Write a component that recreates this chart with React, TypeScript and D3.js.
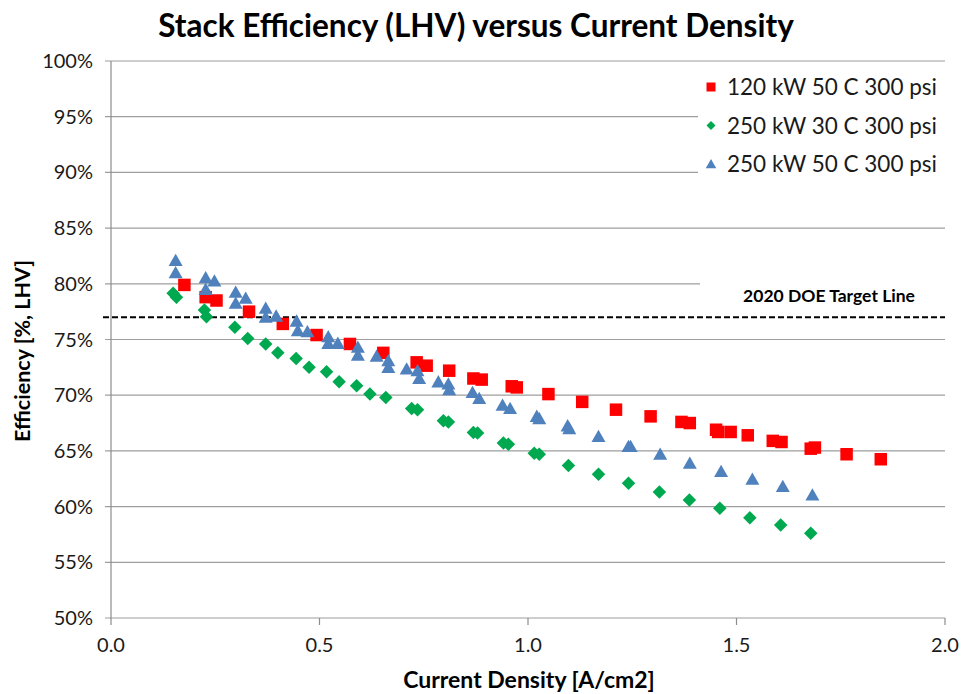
import React from "react";
import * as d3 from "d3";

const title = "Stack Efficiency (LHV) versus Current Density";
const xLabel = "Current Density [A/cm2]";
const yLabel = "Efficiency  [%, LHV]";
const targetLabel = "2020 DOE Target Line";
const targetValue = 77;

const xTicks = [0, 0.5, 1.0, 1.5, 2.0];
const yTicks = [50, 55, 60, 65, 70, 75, 80, 85, 90, 95, 100];

const seriesNames = ["120 kW 50 C 300 psi", "250 kW 30 C 300 psi", "250 kW 50 C 300 psi"];
const seriesColors = ["#FF0000", "#00A94F", "#4F81BD"];
const seriesShapes = ["square", "diamond", "triangle"];

const red120: [number, number][] = [
  [0.176, 79.9], [0.227, 78.8], [0.253, 78.5], [0.331, 77.5], [0.412, 76.4], [0.493, 75.4],
  [0.573, 74.6], [0.653, 73.8], [0.733, 72.95], [0.757, 72.65], [0.811, 72.2], [0.869, 71.5],
  [0.889, 71.4], [0.961, 70.8], [0.973, 70.7], [1.049, 70.1], [1.13, 69.4], [1.211, 68.7],
  [1.294, 68.1], [1.368, 67.6], [1.388, 67.5], [1.451, 66.9], [1.456, 66.7], [1.486, 66.7],
  [1.527, 66.4], [1.587, 65.9], [1.608, 65.8], [1.678, 65.2], [1.688, 65.3], [1.764, 64.7],
  [1.846, 64.25],
];

const green250_30: [number, number][] = [
  [0.149, 79.15], [0.157, 78.8], [0.224, 77.65], [0.229, 77.05], [0.297, 76.1], [0.328, 75.1],
  [0.371, 74.6], [0.4, 73.8], [0.444, 73.3], [0.475, 72.5], [0.517, 72.1], [0.547, 71.2],
  [0.589, 70.85], [0.621, 70.1], [0.659, 69.8], [0.721, 68.8], [0.735, 68.7], [0.797, 67.7],
  [0.809, 67.6], [0.869, 66.65], [0.879, 66.6], [0.941, 65.7], [0.953, 65.6], [1.015, 64.8],
  [1.027, 64.7], [1.097, 63.7], [1.169, 62.9], [1.241, 62.1], [1.315, 61.3], [1.387, 60.6],
  [1.46, 59.85], [1.532, 59.0], [1.606, 58.35], [1.678, 57.6],
];

const blue250_50: [number, number][] = [
  [0.155, 82.1], [0.155, 81.0], [0.227, 80.55], [0.227, 79.5], [0.248, 80.25], [0.299, 79.25],
  [0.299, 78.25], [0.323, 78.7], [0.371, 77.8], [0.371, 77.0], [0.396, 77.1], [0.445, 76.65],
  [0.448, 75.8], [0.471, 75.7], [0.521, 75.25], [0.521, 74.65], [0.544, 74.65], [0.592, 74.3],
  [0.592, 73.6], [0.637, 73.5], [0.665, 73.1], [0.665, 72.5], [0.709, 72.35], [0.735, 72.2],
  [0.739, 71.5], [0.785, 71.2], [0.809, 71.0], [0.811, 70.5], [0.867, 70.25], [0.883, 69.7],
  [0.939, 69.1], [0.957, 68.8], [1.021, 68.1], [1.027, 67.9], [1.095, 67.25], [1.099, 67.0],
  [1.169, 66.3], [1.241, 65.4], [1.246, 65.4], [1.317, 64.7], [1.388, 63.9], [1.463, 63.15],
  [1.538, 62.45], [1.611, 61.8], [1.682, 61.05],
];

const seriesData = [red120, green250_30, blue250_50];

const W = 963;
const H = 694;
const left = 111;
const right = 945;
const top = 61;
const bottom = 618;

const FONT = "Lato, 'Open Sans', sans-serif";

// symbol types where "size" is the full width of the marker in px
const widthDiamond = {
  draw(ctx: any, s: number) {
    const r = s / 2;
    ctx.moveTo(0, -r);
    ctx.lineTo(r, 0);
    ctx.lineTo(0, r);
    ctx.lineTo(-r, 0);
    ctx.closePath();
  },
};
const widthSquare = {
  draw(ctx: any, s: number) {
    const r = s / 2;
    ctx.rect(-r, -r, s, s);
  },
};
const widthTriangle = {
  draw(ctx: any, s: number) {
    const r = s / 2;
    const h = s * 0.88;
    ctx.moveTo(0, -h * 0.55);
    ctx.lineTo(r, h * 0.45);
    ctx.lineTo(-r, h * 0.45);
    ctx.closePath();
  },
};

function marker(shape: string, size: number) {
  const type = shape === "square" ? widthSquare : shape === "diamond" ? widthDiamond : widthTriangle;
  return d3.symbol(type as any, size)() || "";
}

export default function App() {
  const x = d3.scaleLinear().domain([0, 2]).range([left, right]);
  const y = d3.scaleLinear().domain([50, 100]).range([bottom, top]);
  const sizes = [12.5, 13.5, 14];
  const legendSizes = [9, 9, 10.5];

  return (
    <svg width={W} height={H} style={{ position: "absolute", left: 0, top: 0, background: "#fff" }}>
      <rect x={0} y={0} width={W} height={H} fill="#fff" />
      <text x={476} y={37} textAnchor="middle" fontFamily={FONT} fontWeight="bold" fontSize={31.5} fill="#000">
        {title}
      </text>

      {/* gridlines */}
      {yTicks.map((t) => (
        <line key={"g" + t} x1={x(0) - 6} x2={right} y1={y(t)} y2={y(t)} stroke="#9E9E9E" strokeWidth={1.2} />
      ))}
      {/* axes */}
      <line x1={x(0)} x2={x(0)} y1={top} y2={bottom} stroke="#8C8C8C" strokeWidth={1.2} />
      {xTicks.map((t) => (
        <line key={"xt" + t} x1={x(t)} x2={x(t)} y1={bottom} y2={bottom + 7} stroke="#8C8C8C" strokeWidth={1.2} />
      ))}

      {/* legend box and target label box covering gridlines */}
      <rect x={698} y={64} width={248} height={118} fill="#fff" />
      <rect x={700} y={278} width={246} height={28} fill="#fff" />

      {/* target line */}
      <line x1={x(0) - 8} x2={right} y1={y(targetValue)} y2={y(targetValue)} stroke="#000" strokeWidth={2} strokeDasharray="6,3" />
      <text x={829} y={302} textAnchor="middle" fontFamily={FONT} fontWeight="bold" fontSize={17.5} fill="#000">
        {targetLabel}
      </text>

      {/* tick labels */}
      {yTicks.map((t) => (
        <text key={"yl" + t} x={93} y={y(t) + 7} textAnchor="end" fontFamily={FONT} fontSize={20} fill="#1a1a1a">
          {t + "%"}
        </text>
      ))}
      {xTicks.map((t) => (
        <text key={"xl" + t} x={x(t)} y={652} textAnchor="middle" fontFamily={FONT} fontSize={20} fill="#1a1a1a">
          {d3.format(".1f")(t)}
        </text>
      ))}

      {/* axis titles */}
      <text x={529} y={688} textAnchor="middle" fontFamily={FONT} fontWeight="bold" fontSize={23} fill="#000">
        {xLabel}
      </text>
      <text transform={`translate(30,351) rotate(-90)`} textAnchor="middle" fontFamily={FONT} fontWeight="bold" fontSize={21.5} fill="#000">
        {yLabel}
      </text>

      {/* data */}
      {seriesData.map((series, si) => (
        <g key={"s" + si} fill={seriesColors[si]}>
          {series.map((d, i) => (
            <path key={i} d={marker(seriesShapes[si], sizes[si])} transform={`translate(${x(d[0])},${y(d[1])})`} />
          ))}
        </g>
      ))}

      {/* legend */}
      {seriesNames.map((n, i) => (
        <g key={"lg" + i} transform={`translate(0,${87 + i * 38.5})`}>
          <path d={marker(seriesShapes[i], legendSizes[i])} transform={`translate(711,0)`} fill={seriesColors[i]} />
          <text x={727} y={8} fontFamily={FONT} fontSize={22.5} fill="#1a1a1a">
            {n}
          </text>
        </g>
      ))}
    </svg>
  );
}
